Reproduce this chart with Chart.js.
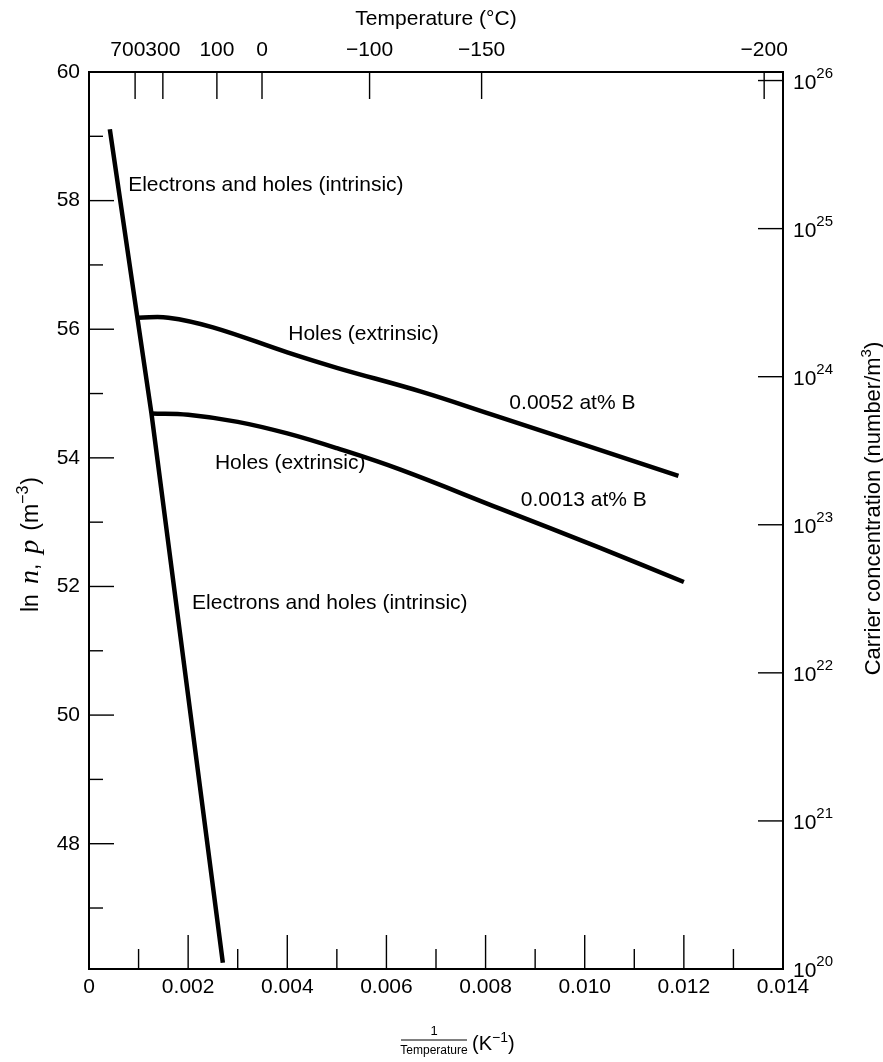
<!DOCTYPE html>
<html>
<head>
<meta charset="utf-8">
<script src="https://cdn.jsdelivr.net/npm/chart.js@4.4.1/dist/chart.umd.min.js"></script>
<style>
  html, body { margin: 0; padding: 0; background: #fff; }
</style>
</head>
<body>
<canvas id="chart1" width="883" height="1062"></canvas>
<script>
// intrinsic line (electrons and holes)
const intrinsicX = [0.00042, 0.00101, 0.00126, 0.0027];
const intrinsicY = [59.11, 56.0, 54.69, 46.15];
// holes, 0.0052 at% B
const holesHighX = [0.000995, 0.0016, 0.0025, 0.0040, 0.0050, 0.0067, 0.0081, 0.01189];
const holesHighY = [56.18, 56.18, 56.03, 55.64, 55.40, 55.03, 54.68, 53.72];
// holes, 0.0013 at% B
const holesLowX = [0.00126, 0.0020, 0.0030, 0.0040, 0.0050, 0.00627, 0.00829, 0.01031, 0.0120];
const holesLowY = [54.69, 54.67, 54.56, 54.38, 54.15, 53.82, 53.21, 52.60, 52.07];

// axes
const bottomTicks = [0, 0.002, 0.004, 0.006, 0.008, 0.010, 0.012, 0.014];
const bottomMinor = [0.001, 0.003, 0.005, 0.007, 0.009, 0.011, 0.013];
const leftTicks = [48, 50, 52, 54, 56, 58, 60];
const leftMinor = [47, 49, 51, 53, 55, 57, 59];
const rightExponents = [20, 21, 22, 23, 24, 25, 26];
const topTickLabels = ['700', '300', '100', '0', '\u2212100', '\u2212150', '\u2212200'];
const topTickValues = [0.00093, 0.00149, 0.00258, 0.00349, 0.00566, 0.00792, 0.01362];

// text on the plot
const notes = [
  { text: 'Electrons and holes (intrinsic)', x: 0.00079, y: 58.24 },
  { text: 'Holes (extrinsic)', x: 0.00402, y: 55.93 },
  { text: '0.0052 at% B', x: 0.00848, y: 54.85 },
  { text: 'Holes (extrinsic)', x: 0.00254, y: 53.91 },
  { text: '0.0013 at% B', x: 0.00871, y: 53.34 },
  { text: 'Electrons and holes (intrinsic)', x: 0.00208, y: 51.74 }
];

const yMin = 20 * Math.LN10;
const yMax = 60;
const FONT = '"Liberation Sans", Arial, sans-serif';
const SERIF = '"Liberation Serif", "Times New Roman", serif';

function pts(xs, ys) {
  return xs.map((x, i) => ({ x: x, y: ys[i] }));
}

function drawParts(ctx, parts, x, y, align) {
  let w = 0;
  parts.forEach(p => { ctx.font = p.font; p.w = ctx.measureText(p.t).width + (p.gap || 0); w += p.w; });
  let cx = align === 'center' ? x - w / 2 : (align === 'right' ? x - w : x);
  ctx.textAlign = 'left';
  ctx.textBaseline = 'alphabetic';
  parts.forEach(p => { ctx.font = p.font; ctx.fillText(p.t, cx, y + (p.dy || 0)); cx += p.w; });
}

const frameExtras = {
  id: 'frameExtras',
  afterDraw(chart) {
    const ctx = chart.ctx;
    const a = chart.chartArea;
    const sx = chart.scales.x, sy = chart.scales.y;
    const st = chart.scales.xTop, sr = chart.scales.yRight;
    ctx.save();
    ctx.strokeStyle = '#000';
    ctx.fillStyle = '#000';
    ctx.lineWidth = 1.4;
    const seg = (x1, y1, x2, y2) => { ctx.beginPath(); ctx.moveTo(x1, y1); ctx.lineTo(x2, y2); ctx.stroke(); };

    // inward tick marks
    leftTicks.forEach(v => { const p = sy.getPixelForValue(v); seg(a.left, p, a.left + 25, p); });
    leftMinor.forEach(v => { const p = sy.getPixelForValue(v); seg(a.left, p, a.left + 14, p); });
    bottomTicks.forEach(v => { const p = sx.getPixelForValue(v); seg(p, a.bottom, p, a.bottom - 34); });
    bottomMinor.forEach(v => { const p = sx.getPixelForValue(v); seg(p, a.bottom, p, a.bottom - 20); });
    topTickValues.forEach(v => { const p = st.getPixelForValue(v); seg(p, a.top, p, a.top + 27); });
    rightExponents.forEach(n => { const p = sr.getPixelForValue(n * Math.LN10); seg(a.right, p, a.right - 25, p); });

    // top temperature labels
    ctx.font = '21px ' + FONT;
    ctx.textBaseline = 'alphabetic';
    const tp = topTickValues.map(v => st.getPixelForValue(v));
    topTickLabels.forEach((t, i) => {
      if (i === 0) {
        ctx.textAlign = 'right';
        ctx.fillText(t, tp[1] - ctx.measureText(topTickLabels[1]).width / 2, a.top - 16);
      } else {
        ctx.textAlign = 'center';
        ctx.fillText(t, tp[i], a.top - 16);
      }
    });
    ctx.textAlign = 'center';
    ctx.fillText('Temperature (\u00B0C)', (a.left + a.right) / 2, 25);

    // right labels 10^n
    rightExponents.forEach(n => {
      const p = sr.getPixelForValue(n * Math.LN10);
      drawParts(ctx, [
        { t: '10', font: '21px ' + FONT },
        { t: String(n), font: '15px ' + FONT, dy: -11 }
      ], a.right + 10, p + 8, 'left');
    });

    // right title
    ctx.save();
    ctx.translate(872, (a.top + a.bottom) / 2 - 12);
    ctx.rotate(-Math.PI / 2);
    drawParts(ctx, [
      { t: 'Carrier concentration (number/m', font: '22px ' + FONT },
      { t: '3', font: '15px ' + FONT, dy: -9 },
      { t: ')', font: '22px ' + FONT }
    ], 0, 8, 'center');
    ctx.restore();

    // left title
    ctx.save();
    ctx.translate(30, (a.top + a.bottom) / 2 + 24);
    ctx.rotate(-Math.PI / 2);
    drawParts(ctx, [
      { t: 'ln', font: '23px ' + FONT, gap: 10 },
      { t: 'n', font: 'italic 28px ' + SERIF },
      { t: ',', font: '23px ' + FONT, gap: 10 },
      { t: 'p', font: 'italic 28px ' + SERIF, gap: 9 },
      { t: '(m', font: '23px ' + FONT },
      { t: '\u22123', font: '16px ' + FONT, dy: -10, gap: 1 },
      { t: ')', font: '23px ' + FONT }
    ], 0, 8, 'center');
    ctx.restore();

    // bottom title as a fraction
    const cx = (a.left + a.right) / 2 - 2;
    ctx.textAlign = 'center';
    ctx.font = '13px ' + FONT;
    ctx.fillText('1', cx, 1035);
    ctx.font = '12px ' + FONT;
    ctx.fillText('Temperature', cx, 1054);
    ctx.lineWidth = 1;
    seg(cx - 33, 1040, cx + 33, 1040);
    drawParts(ctx, [
      { t: '(K', font: '20px ' + FONT },
      { t: '\u22121', font: '14px ' + FONT, dy: -8 },
      { t: ')', font: '20px ' + FONT }
    ], cx + 38, 1050, 'left');

    // annotations
    ctx.font = '21px ' + FONT;
    ctx.textAlign = 'left';
    ctx.textBaseline = 'middle';
    notes.forEach(n => {
      ctx.fillText(n.text, sx.getPixelForValue(n.x), sy.getPixelForValue(n.y));
    });
    ctx.restore();
  }
};

const lineStyle = {
  borderColor: '#000',
  borderWidth: 4.5,
  pointRadius: 0,
  fill: false,
  borderCapStyle: 'butt',
  borderJoinStyle: 'round'
};

new Chart(document.getElementById('chart1').getContext('2d'), {
  type: 'line',
  data: {
    datasets: [
      Object.assign({ label: 'Electrons and holes (intrinsic)', data: pts(intrinsicX, intrinsicY), tension: 0 }, lineStyle),
      Object.assign({ label: '0.0052 at% B', data: pts(holesHighX, holesHighY), tension: 0.4 }, lineStyle),
      Object.assign({ label: '0.0013 at% B', data: pts(holesLowX, holesLowY), tension: 0.4 }, lineStyle)
    ]
  },
  options: {
    responsive: false,
    animation: false,
    devicePixelRatio: 1,
    layout: { padding: 0 },
    plugins: {
      legend: { display: false },
      tooltip: { enabled: false }
    },
    scales: {
      x: {
        type: 'linear', position: 'bottom', min: 0, max: 0.014,
        afterBuildTicks: s => { s.ticks = bottomTicks.map(v => ({ value: v })); },
        afterFit: s => { s.height = 93; },
        grid: { display: false, drawTicks: false },
        border: { display: true, color: '#000', width: 2 },
        ticks: {
          autoSkip: false, maxRotation: 0, padding: 6, color: '#000',
          font: { family: FONT, size: 21 },
          callback: v => v === 0 ? '0' : v.toFixed(3)
        }
      },
      xTop: {
        type: 'linear', position: 'top', min: 0, max: 0.014,
        afterBuildTicks: s => { s.ticks = topTickValues.map(v => ({ value: v })); },
        afterFit: s => { s.height = 72; },
        grid: { display: false, drawTicks: false },
        border: { display: true, color: '#000', width: 2 },
        ticks: { display: false }
      },
      y: {
        type: 'linear', position: 'left', min: yMin, max: yMax,
        afterBuildTicks: s => { s.ticks = leftTicks.map(v => ({ value: v })); },
        afterFit: s => { s.width = 89; },
        grid: { display: false, drawTicks: false },
        border: { display: true, color: '#000', width: 2 },
        ticks: {
          padding: 9, color: '#000',
          font: { family: FONT, size: 21 },
          callback: v => String(v)
        }
      },
      yRight: {
        type: 'linear', position: 'right', min: yMin, max: yMax,
        afterBuildTicks: s => { s.ticks = rightExponents.map(n => ({ value: n * Math.LN10 })); },
        afterFit: s => { s.width = 100; },
        grid: { display: false, drawTicks: false },
        border: { display: true, color: '#000', width: 2 },
        ticks: { display: false }
      }
    }
  },
  plugins: [frameExtras]
});
</script>
</body>
</html>
